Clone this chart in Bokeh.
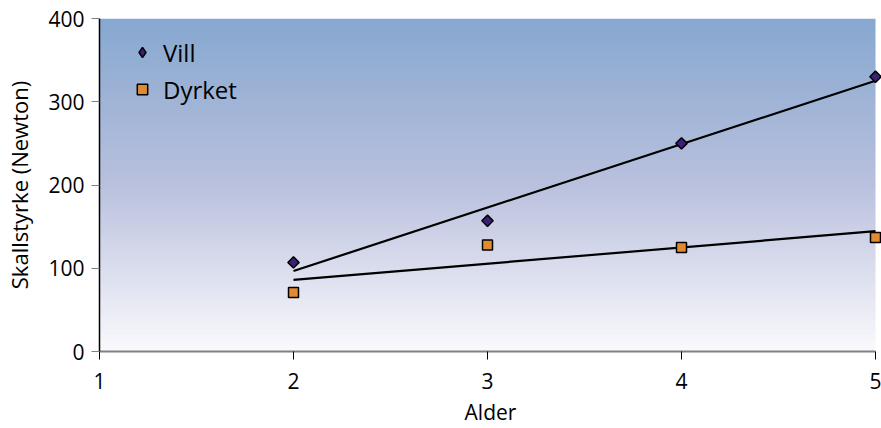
import numpy as np
from bokeh.plotting import figure
from bokeh.models import Legend, LegendItem, FixedTicker, Range1d
from bokeh.embed import file_html
from bokeh.resources import INLINE

# ---- data ----
ages = [2, 3, 4, 5]
vill = [107, 157, 250, 330]
dyrket = [71, 128, 125, 137]
x_ticks = [1, 2, 3, 4, 5]
y_ticks = [0, 100, 200, 300, 400]
series_names = ["Vill", "Dyrket"]

FONT = "Open Sans"
X_MIN, X_MAX = 1, 5
Y_MIN, Y_MAX = 0, 400
X_PAD = 6 / 194.0  # a few pixels of room right of x=5 so the last markers are not cut

p = figure(width=881, height=428, output_backend="svg", toolbar_location=None,
           x_range=Range1d(X_MIN, X_MAX + X_PAD), y_range=Range1d(Y_MIN, Y_MAX),
           min_border_left=99, min_border_right=0, min_border_top=18, min_border_bottom=77)
p.background_fill_color = "white"
p.border_fill_color = "white"
p.outline_line_color = None
p.grid.visible = False

# gradient background (top blue -> lavender -> near white)
n = 200
t = np.linspace(0, 1, n)  # 0 bottom, 1 top
stops_t = [0.0, 0.5, 1.0]
stops_c = np.array([[250, 250, 253], [186, 193, 222], [135, 168, 208]], dtype=float)
cols = np.stack([np.interp(t, stops_t, stops_c[:, k]) for k in range(3)], axis=1).astype(np.uint32)
img = np.empty((n, 2), dtype=np.uint32)
view = img.view(dtype=np.uint8).reshape((n, 2, 4))
for k in range(3):
    view[:, :, k] = cols[:, k][:, None]
view[:, :, 3] = 255
p.image_rgba(image=[img], x=X_MIN, y=Y_MIN, dw=X_MAX - X_MIN, dh=Y_MAX - Y_MIN)

# trend lines (least squares)
xs = np.array(ages, dtype=float)
for ys in (vill, dyrket):
    m, b = np.polyfit(xs, np.array(ys, dtype=float), 1)
    p.line([xs[0], xs[-1]], [m * xs[0] + b, m * xs[-1] + b], line_color="black", line_width=2.2)

VILL_COLOR = "#3d1f78"
DYRKET_COLOR = "#e08a32"

# legend-only diamond (legend glyphs ignore marker angle)
r1_leg = p.scatter(ages, vill, marker="diamond", size=10, fill_color=VILL_COLOR,
                   line_color="black", line_width=1.5, visible=False)
r1 = p.scatter(ages, vill, marker="square", angle=np.pi / 4, size=8, fill_color=VILL_COLOR,
               line_color="black", line_width=1.5)
r2 = p.scatter(ages, dyrket, marker="square", size=10, fill_color=DYRKET_COLOR,
               line_color="black", line_width=1.5)

legend = Legend(items=[LegendItem(label=series_names[0], renderers=[r1_leg]),
                       LegendItem(label=series_names[1], renderers=[r2])],
                location=(30, 245), orientation="vertical")
legend.background_fill_alpha = 0
legend.border_line_color = None
legend.padding = 0
legend.margin = 0
legend.spacing = 3
legend.label_height = 34
legend.glyph_height = 34
legend.glyph_width = 26
legend.label_standoff = 8
legend.label_text_font = FONT
legend.label_text_font_size = "24px"
legend.label_text_color = "black"
p.add_layout(legend, "center")

# axes
p.xaxis.ticker = FixedTicker(ticks=x_ticks)
p.yaxis.ticker = FixedTicker(ticks=y_ticks)
p.xaxis.bounds = (X_MIN, X_MAX)
p.xaxis.axis_label = "Alder"
p.yaxis.axis_label = "Skallstyrke (Newton)"
for ax in (p.xaxis[0], p.yaxis[0]):
    ax.major_label_text_font = FONT
    ax.major_label_text_font_size = "21px"
    ax.major_label_text_color = "black"
    ax.axis_label_text_font = FONT
    ax.axis_label_text_font_size = "21px"
    ax.axis_label_text_font_style = "normal"
    ax.axis_label_text_color = "black"
    ax.minor_tick_line_color = None
    ax.major_tick_out = 8
    ax.major_tick_in = 0
p.yaxis.axis_label_text_font_size = "22px"
p.xaxis.axis_line_color = "#808080"
p.xaxis.axis_line_width = 2
p.xaxis.major_tick_line_color = "black"
p.xaxis.major_label_standoff = 13
p.xaxis.axis_label_standoff = 6
p.yaxis.axis_line_color = "black"
p.yaxis.axis_line_width = 1.5
p.yaxis.major_tick_line_color = "#808080"
p.yaxis.major_label_standoff = 7
p.yaxis.axis_label_standoff = 11

open("out.html", "w").write(file_html(p, INLINE))
